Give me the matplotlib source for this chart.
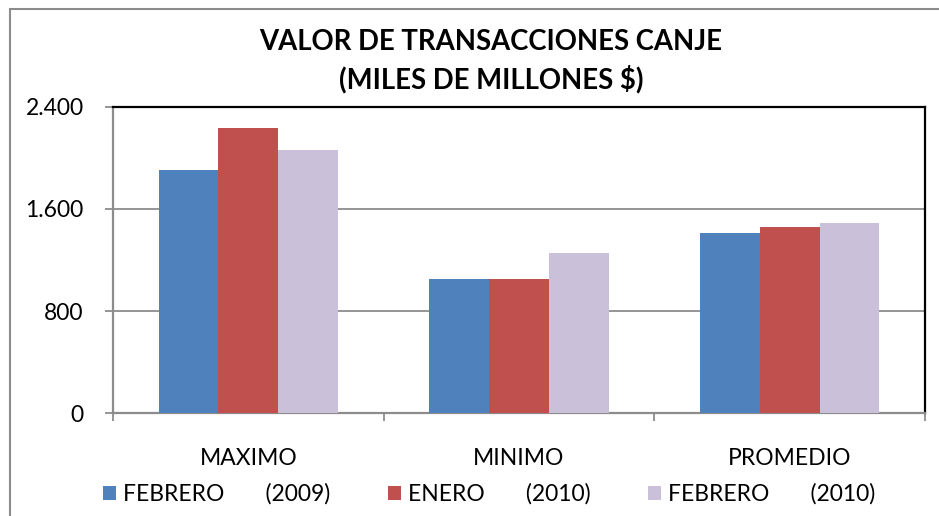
import matplotlib
matplotlib.use("Agg")
import matplotlib.pyplot as plt
from matplotlib.patches import Rectangle
from matplotlib.ticker import FuncFormatter
import numpy as np

plt.rcParams['font.family'] = ['Lato', 'DejaVu Sans']

categories = ["MAXIMO", "MINIMO", "PROMEDIO"]
series_names = ["FEBRERO       (2009)", "ENERO       (2010)", "FEBRERO       (2010)"]
feb_2009 = [1905, 1051, 1411]
ene_2010 = [2233, 1051, 1458]
feb_2010 = [2061, 1255, 1490]
colors = ["#4F81BD", "#C0504D", "#CBC0DA"]
yticks = [0, 800, 1600, 2400]

W, H = 939, 516
fs = 16.5
fig = plt.figure(figsize=(W / 100, H / 100), dpi=100)
ax = fig.add_axes([113 / W, 1 - 413.3 / H, (925 - 113) / W, (413.3 - 106.7) / H])

x = np.arange(len(categories))
bw = 0.221
for i, (vals, name, c) in enumerate(zip([feb_2009, ene_2010, feb_2010], series_names, colors)):
    ax.bar(x + (i - 1) * bw, vals, width=bw, color=c, label=name, zorder=3)

ax.set_xlim(-0.5, len(categories) - 0.5)
ax.set_ylim(0, 2400)
ax.set_yticks(yticks)
ax.yaxis.set_major_formatter(FuncFormatter(lambda v, p: f"{int(v):,}".replace(",", ".")))
ax.grid(axis='y', color='#8C8C8C', linewidth=1.3, zorder=0)

ax.set_xticks(x)
ax.set_xticklabels(categories)
ax.set_xticks(np.arange(-0.5, len(categories)), minor=True)
ax.tick_params(axis='x', which='major', length=0, pad=25, labelsize=fs, colors='black')
ax.tick_params(axis='x', which='minor', length=6, width=1.3, color='#8C8C8C', direction='out')
ax.tick_params(axis='y', length=6, width=1.3, color='#8C8C8C', direction='out', pad=15, labelsize=fs)

for s in ['left', 'bottom']:
    ax.spines[s].set_color('#8C8C8C')
    ax.spines[s].set_linewidth(1.6)
for s in ['top', 'right']:
    ax.spines[s].set_color('black')
    ax.spines[s].set_linewidth(1.6)

fig.text(491 / W, 1 - 42 / H, "VALOR DE TRANSACCIONES CANJE", ha='center', va='center',
         fontsize=19.8, fontweight='bold')
fig.text(491 / W, 1 - 79 / H, "(MILES DE MILLONES $)", ha='center', va='center',
         fontsize=19.8, fontweight='bold')

leg = fig.legend(loc='center', bbox_to_anchor=(489 / W, 1 - 494 / H), ncol=3, frameon=False,
                 fontsize=fs, handlelength=0.57, handleheight=0.57, handletextpad=0.3,
                 columnspacing=2.5)

fig.add_artist(Rectangle((10 / W, -0.1), 1.2, 1 - 9 / H + 0.1, transform=fig.transFigure,
                         fill=False, edgecolor='#8C8C8C', linewidth=1.5))

fig.savefig("out.png", dpi=100)
